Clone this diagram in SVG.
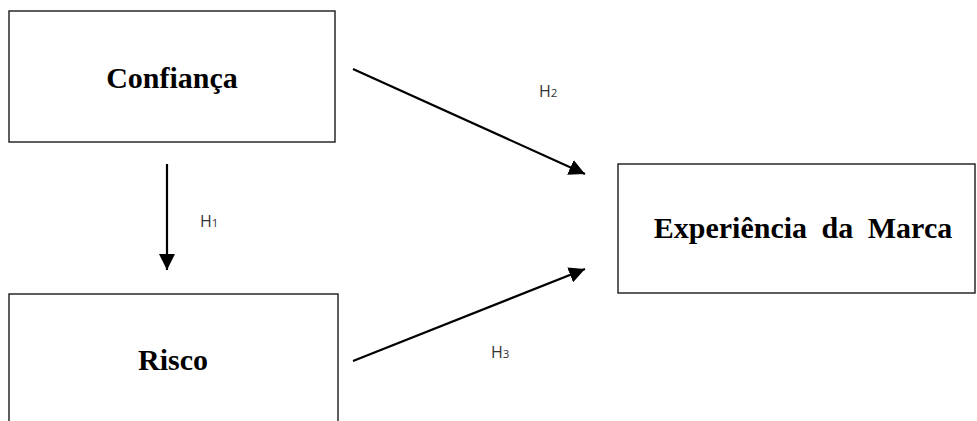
<svg xmlns="http://www.w3.org/2000/svg" width="977" height="421" viewBox="0 0 977 421">
<style>
.box{fill:#fff;stroke:#1a1a1a;stroke-width:1.4}
.title{font-family:"Liberation Serif","Times New Roman",serif;font-weight:bold;font-size:30px;fill:#000;text-anchor:middle}
.conn{stroke:#000;stroke-width:2.2;fill:none}
.lbl{font-family:"Open Sans","Noto Sans",sans-serif;font-size:16px;fill:#333}
.sub{font-size:11.5px}
</style>
<defs>
<marker id="arr" markerUnits="userSpaceOnUse" markerWidth="16" markerHeight="16" viewBox="0 0 16 16" refX="16" refY="8" orient="auto">
<path d="M0,0 L16,8 L0,16 Z" fill="#000"/>
</marker>
</defs>
<rect width="977" height="421" fill="#fff"/>
<g id="confianca">
<rect class="box" x="9" y="11" width="326" height="131"/>
<text class="title" x="172" y="88">Confiança</text>
</g>
<g id="risco">
<rect class="box" x="9" y="294" width="329" height="140"/>
<text class="title" x="173" y="370">Risco</text>
</g>
<g id="experiencia">
<rect class="box" x="618" y="164" width="357" height="129"/>
<text class="title" x="803" y="238" word-spacing="7">Experiência da Marca</text>
</g>
<g id="connectors">
<line class="conn" x1="167" y1="164" x2="167" y2="270" marker-end="url(#arr)"/>
<line class="conn" x1="353" y1="69" x2="585" y2="174" marker-end="url(#arr)"/>
<line class="conn" x1="353" y1="361" x2="585" y2="269" marker-end="url(#arr)"/>
<text class="lbl" x="200" y="227">H<tspan class="sub">1</tspan></text>
<text class="lbl" x="539" y="97">H<tspan class="sub">2</tspan></text>
<text class="lbl" x="491" y="358">H<tspan class="sub">3</tspan></text>
</g>
</svg>
